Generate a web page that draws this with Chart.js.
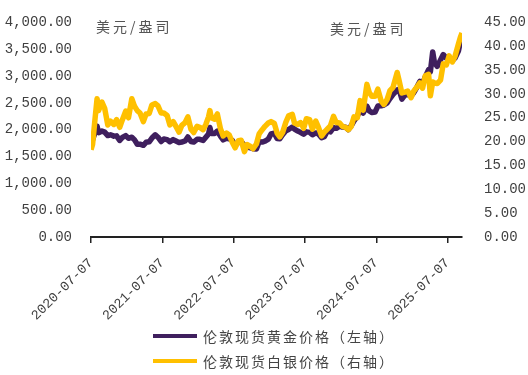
<!DOCTYPE html>
<html>
<head>
<meta charset="utf-8">
<script src="https://cdn.jsdelivr.net/npm/chart.js@4.4.1/dist/chart.umd.min.js"></script>
<style>
  html, body { margin: 0; padding: 0; background: #fff; }
  #wrap { position: relative; width: 528px; height: 375px; }
  #legend { position: absolute; left: 153px; top: 323px; font: 14px "Noto Sans CJK SC"; color: #444; letter-spacing: 2px; }
  .item { display: flex; align-items: center; height: 25px; }
  .swatch { width: 44px; height: 4px; margin-right: 6px; }
</style>
</head>
<body>
<div id="wrap">
  <canvas id="c" width="528" height="375"></canvas>
  <div id="legend"></div>
</div>
<script>
const dates = [
  "2020-07-07","2020-07-15","2020-07-27","2020-08-07","2020-08-15","2020-09-01","2020-09-15","2020-10-01","2020-10-15","2020-11-01","2020-11-15","2020-12-01","2020-12-15",
  "2021-01-01","2021-01-15","2021-02-01","2021-02-15","2021-03-01","2021-03-15","2021-04-01","2021-04-15","2021-05-01","2021-05-15","2021-06-01","2021-06-15",
  "2021-07-01","2021-07-15","2021-08-01","2021-08-15","2021-09-01","2021-09-15","2021-10-01","2021-10-15","2021-11-01","2021-11-15","2021-12-01","2021-12-15",
  "2022-01-01","2022-01-15","2022-02-01","2022-02-15","2022-03-01","2022-03-08","2022-03-15","2022-04-01","2022-04-15","2022-05-01","2022-05-15","2022-06-01","2022-06-15",
  "2022-07-01","2022-07-15","2022-08-01","2022-08-15","2022-09-01","2022-09-15","2022-10-01","2022-10-15","2022-11-01","2022-11-15","2022-12-01","2022-12-15",
  "2023-01-01","2023-01-15","2023-02-01","2023-02-15","2023-03-01","2023-03-15","2023-04-01","2023-04-15","2023-05-04","2023-05-15","2023-06-01","2023-06-15",
  "2023-07-01","2023-07-15","2023-08-01","2023-08-15","2023-09-01","2023-09-15","2023-10-01","2023-10-15","2023-11-01","2023-11-15","2023-12-01","2023-12-15",
  "2024-01-01","2024-01-15","2024-02-01","2024-02-15","2024-03-01","2024-03-15","2024-04-01","2024-04-15","2024-05-01","2024-05-20","2024-06-01","2024-06-15",
  "2024-07-01","2024-07-15","2024-08-01","2024-08-15","2024-09-01","2024-09-15","2024-10-01","2024-10-22","2024-11-01","2024-11-15","2024-12-01","2024-12-15",
  "2025-01-01","2025-01-15","2025-02-01","2025-02-15","2025-03-01","2025-03-15","2025-04-01","2025-04-10","2025-04-22","2025-05-01","2025-05-15","2025-06-01","2025-06-15",
  "2025-07-01","2025-07-15","2025-08-01","2025-08-15","2025-09-01","2025-09-10","2025-09-19"
];
const goldPrice = [
  1785,1810,1940,2065,1945,1975,1955,1890,1905,1880,1885,1800,1855,
  1890,1840,1860,1810,1730,1730,1710,1765,1775,1845,1905,1860,
  1780,1825,1815,1775,1815,1790,1760,1770,1790,1865,1780,1770,
  1820,1820,1800,1860,1920,2040,1930,1930,1975,1880,1810,1840,1830,
  1800,1705,1765,1780,1705,1675,1665,1645,1640,1775,1770,1785,
  1825,1920,1935,1835,1830,1905,1980,2005,2050,2010,1975,1950,
  1915,1960,1950,1905,1940,1920,1850,1870,1985,1960,2040,2025,
  2065,2050,2045,2000,2075,2165,2250,2375,2310,2440,2350,2320,
  2330,2440,2445,2460,2500,2580,2660,2740,2750,2570,2650,2655,
  2630,2690,2800,2900,2860,2985,3120,3080,3450,3250,3180,3300,3400,
  3330,3340,3290,3340,3470,3640,3720
];
const silverPrice = [
  18.3,19.4,24.5,29.0,26.5,28.3,27.0,23.5,24.3,23.6,24.6,23.0,24.6,
  26.4,25.0,29.0,27.4,26.5,26.0,24.2,25.8,25.9,27.7,28.0,27.5,
  26.0,26.0,25.5,23.5,24.2,23.2,22.0,23.4,24.0,25.2,22.6,21.9,
  23.2,23.0,22.5,23.6,25.2,26.5,25.0,24.7,25.8,22.7,21.2,21.8,21.4,
  19.8,18.7,20.2,20.3,17.9,19.4,19.0,18.5,19.5,21.6,22.5,23.2,
  23.9,24.2,23.8,21.8,21.0,21.9,24.1,25.4,25.7,23.9,23.6,24.0,
  22.8,24.8,24.6,22.6,24.3,23.0,21.2,22.0,22.7,23.3,25.3,24.0,
  23.9,23.2,23.0,22.5,23.2,25.2,25.0,28.6,26.6,32.0,30.3,29.5,
  29.5,31.0,28.5,27.8,28.9,30.7,31.4,34.5,32.8,30.2,30.4,30.6,
  29.2,30.6,31.5,32.3,31.2,33.8,34.1,29.6,32.5,32.3,32.2,32.9,36.3,
  36.1,38.0,36.7,38.0,40.5,41.8,42.8
];
const xTickLabels = ["2020-07-07","2021-07-07","2022-07-07","2023-07-07","2024-07-07","2025-07-07"];
const seriesNames = ["伦敦现货黄金价格（左轴）", "伦敦现货白银价格（右轴）"];
const unitLabel = "美元/盎司";

const colors = ["#3f1f5e", "#ffc000"];
const t0 = Date.parse(dates[0]);
const dayOf = d => Math.round((Date.parse(d) - t0) / 86400000);

const numFont = { family: "Liberation Mono", size: 14 };

const unitPlugin = {
  id: "units",
  afterDraw(chart) {
    const ctx = chart.ctx;
    ctx.save();
    ctx.font = '14px "Noto Sans CJK SC"';
    ctx.letterSpacing = "3px";
    ctx.fillStyle = "#555";
    ctx.textBaseline = "middle";
    ctx.fillText(unitLabel, 96, 27);
    ctx.fillText(unitLabel, 330, 29);
    ctx.restore();
  }
};

new Chart(document.getElementById("c"), {
  type: "line",
  data: {
    datasets: [
      {
        label: seriesNames[0],
        data: dates.map((d, i) => ({ x: dayOf(d), y: goldPrice[i] })),
        borderColor: colors[0],
        borderWidth: 5.5,
        yAxisID: "yL",
        order: 1
      },
      {
        label: seriesNames[1],
        data: dates.map((d, i) => ({ x: dayOf(d), y: silverPrice[i] })),
        borderColor: colors[1],
        borderWidth: 5.5,
        yAxisID: "yR",
        order: 0
      }
    ]
  },
  options: {
    responsive: false,
    animation: false,
    devicePixelRatio: 1,
    layout: { padding: { top: 18 } },
    elements: { point: { radius: 0 }, line: { tension: 0, borderJoinStyle: "round" } },
    plugins: { legend: { display: false }, tooltip: { enabled: false } },
    scales: {
      x: {
        type: "linear",
        min: 0,
        max: dayOf(dates[dates.length - 1]),
        afterBuildTicks(scale) {
          scale.ticks = xTickLabels.map(d => ({ value: dayOf(d) }));
        },
        afterFit(scale) { scale.height = 138; },
        ticks: {
          autoSkip: false,
          minRotation: 45,
          maxRotation: 45,
          padding: 12,
          color: "#404040",
          font: { family: "Liberation Mono", size: 13.5 },
          callback: (v, i) => xTickLabels[i]
        },
        grid: { drawOnChartArea: false, drawTicks: true, tickLength: 6, color: "#222", lineWidth: 1.5 },
        border: { display: true, color: "#222", width: 2 }
      },
      yL: {
        position: "left",
        min: 0, max: 4000,
        afterFit(scale) { scale.width = 91; },
        ticks: {
          stepSize: 500,
          padding: 11,
          color: "#404040",
          font: numFont,
          callback: v => v.toLocaleString("en-US", { minimumFractionDigits: 2, maximumFractionDigits: 2 })
        },
        grid: { display: false },
        border: { display: false }
      },
      yR: {
        position: "right",
        min: 0, max: 45,
        afterFit(scale) { scale.width = 66; },
        ticks: {
          stepSize: 5,
          padding: 14,
          color: "#404040",
          font: numFont,
          callback: v => v.toFixed(2)
        },
        grid: { display: false },
        border: { display: false }
      }
    }
  },
  plugins: [unitPlugin]
});

const legend = document.getElementById("legend");
seriesNames.forEach((name, i) => {
  const item = document.createElement("div");
  item.className = "item";
  const sw = document.createElement("span");
  sw.className = "swatch";
  sw.style.background = colors[i];
  const txt = document.createElement("span");
  txt.textContent = name;
  item.appendChild(sw);
  item.appendChild(txt);
  legend.appendChild(item);
});
</script>
</body>
</html>
